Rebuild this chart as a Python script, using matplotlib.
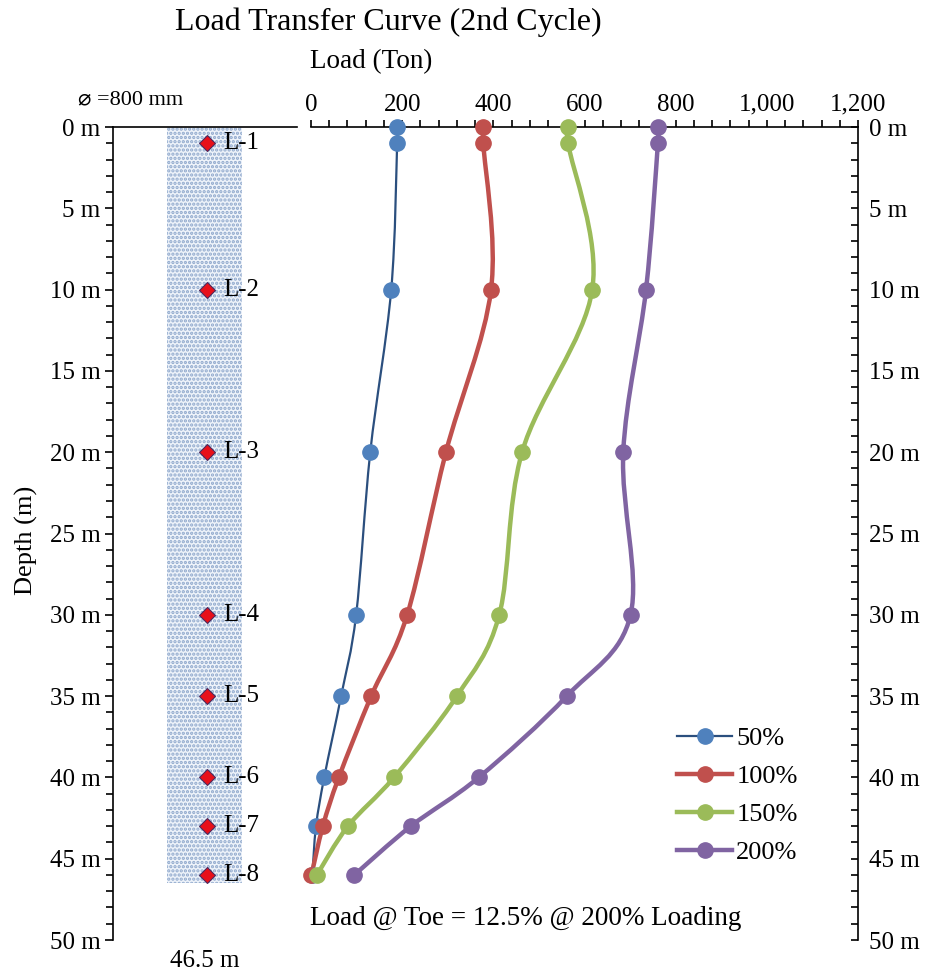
import numpy as np
import matplotlib.pyplot as plt
from matplotlib.path import Path
from matplotlib.patches import PathPatch, Rectangle
from matplotlib.lines import Line2D
from matplotlib.ticker import MultipleLocator, FuncFormatter

plt.rcParams['font.family'] = ['Liberation Serif', 'DejaVu Sans']
plt.rcParams['hatch.linewidth'] = 1.6

# depths of the strain gauge levels (m)
depth = [0, 1, 10, 20, 30, 35, 40, 43, 46]
gauge_depth = [1, 10, 20, 30, 35, 40, 43, 46]
gauge_names = ['L-1', 'L-2', 'L-3', 'L-4', 'L-5', 'L-6', 'L-7', 'L-8']
pile_length = 46.5

# load (ton) at each depth for each loading stage
load_50 = [189, 189, 176, 130, 99, 66, 29, 11, 3]
load_100 = [378, 378, 395, 296, 211, 132, 61, 26, 1]
load_150 = [564, 564, 617, 463, 413, 320, 182, 81, 13]
load_200 = [761, 761, 735, 685, 701, 561, 368, 219, 95]
series_labels = ['50%', '100%', '150%', '200%']

line_colors = ['#2b4f7e', '#c0504d', '#9bbb59', '#8064a2']
marker_colors = ['#4f81bd', '#c0504d', '#9bbb59', '#8064a2']
line_widths = [1.6, 3.2, 3.2, 3.2]


def smooth_path(x, y):
    # excel-like smoothed line: bezier segments through every point
    pts = np.column_stack([x, y]).astype(float)
    n = len(pts)
    verts = [pts[0]]
    codes = [Path.MOVETO]
    for i in range(n - 1):
        p0 = pts[i - 1] if i > 0 else pts[i]
        p1 = pts[i]
        p2 = pts[i + 1]
        p3 = pts[i + 2] if i + 2 < n else pts[i + 1]
        c1 = p1 + (p2 - p0) / 6.0
        c2 = p2 - (p3 - p1) / 6.0
        verts += [c1, c2, p2]
        codes += [Path.CURVE4] * 3
    return Path(verts, codes)


fig = plt.figure(figsize=(9.31, 9.76), dpi=100)

#%% pile sketch on the left
axp = fig.add_axes([113/931, 1 - 940/976, (297-113)/931, (940-127)/976])
axp.set_xlim(0, 1)
axp.set_ylim(50, 0)
for s in ['right', 'bottom']:
    axp.spines[s].set_visible(False)
axp.spines['left'].set_linewidth(1.2)
axp.spines['top'].set_linewidth(1.2)
axp.set_xticks([])
axp.yaxis.set_major_locator(MultipleLocator(5))
axp.yaxis.set_minor_locator(MultipleLocator(1))
axp.yaxis.set_major_formatter(FuncFormatter(lambda v, p: '%d m' % v))
axp.tick_params(axis='y', which='major', length=6, width=1.2, labelsize=18, pad=3)
axp.tick_params(axis='y', which='minor', length=5, width=1.2)

axp.add_patch(Rectangle((0.295, 0), 0.405, pile_length, facecolor='#eef3fa',
                        edgecolor='#8fa8cc', hatch='....', linewidth=0))
axp.plot([0.51] * len(gauge_depth), gauge_depth, linestyle='none', marker='D',
         markersize=8.5, markerfacecolor='#e8101a', markeredgecolor='#4b2a5e',
         markeredgewidth=0.8)
for d, name in zip(gauge_depth, gauge_names):
    axp.text(0.6, d, name, fontsize=18, va='center', ha='left')

fig.text(26/931, 1 - 540/976, 'Depth (m)', fontsize=19, rotation=90,
         ha='center', va='center')
fig.text(131/931, 1 - 100/976, '\u2300 =800 mm', fontsize=16, ha='center', va='center')
fig.text(205/931, 1 - 961/976, '%.1f m' % pile_length, fontsize=18, ha='center', va='center')

#%% load transfer curves
ax = fig.add_axes([311/931, 1 - 940/976, (858-311)/931, (940-127)/976])
ax.set_xlim(0, 1200)
ax.set_ylim(50, 0)
for s in ['left', 'bottom']:
    ax.spines[s].set_visible(False)
ax.spines['top'].set_linewidth(1.2)
ax.spines['right'].set_linewidth(1.2)
ax.xaxis.tick_top()
ax.xaxis.set_major_locator(MultipleLocator(200))
ax.xaxis.set_minor_locator(MultipleLocator(40))
ax.xaxis.set_major_formatter(FuncFormatter(lambda v, p: '{:,.0f}'.format(v)))
ax.tick_params(axis='x', which='both', direction='out', length=5, width=1.2, labelsize=18, pad=3)
ax.yaxis.tick_right()
ax.yaxis.set_major_locator(MultipleLocator(5))
ax.yaxis.set_minor_locator(MultipleLocator(1))
ax.yaxis.set_major_formatter(FuncFormatter(lambda v, p: '%d m' % v))
ax.tick_params(axis='y', which='both', direction='in', length=5, width=1.2, labelsize=18, pad=8)

all_loads = [load_50, load_100, load_150, load_200]
handles = []
for loads, lc, mc, lw, lab in zip(all_loads, line_colors, marker_colors, line_widths, series_labels):
    ax.add_patch(PathPatch(smooth_path(loads, depth), facecolor='none', edgecolor=lc,
                           linewidth=lw, capstyle='round', zorder=2))
    ax.plot(loads, depth, linestyle='none', marker='o', markersize=11,
            color=mc, zorder=3, clip_on=False)
    handles.append(Line2D([], [], color=lc, linewidth=lw, marker='o', markersize=11,
                          markerfacecolor=mc, markeredgecolor=mc))

ax.legend(handles, series_labels, loc='upper left', bbox_to_anchor=(0.669, 0.262),
          frameon=False, fontsize=19, handlelength=2.1, handletextpad=0.15,
          labelspacing=0.55, borderpad=0, borderaxespad=0)

ax.text(-3, 48.7, 'Load @ Toe = 12.5% @ 200% Loading', fontsize=19.5, ha='left', va='center')

fig.text(371/931, 1 - 62/976, 'Load (Ton)', fontsize=19.5, ha='center', va='center')
fig.text(388/931, 1 - 22/976, 'Load Transfer Curve (2nd Cycle)', fontsize=23,
         ha='center', va='center')

fig.savefig('out.png', dpi=100)
